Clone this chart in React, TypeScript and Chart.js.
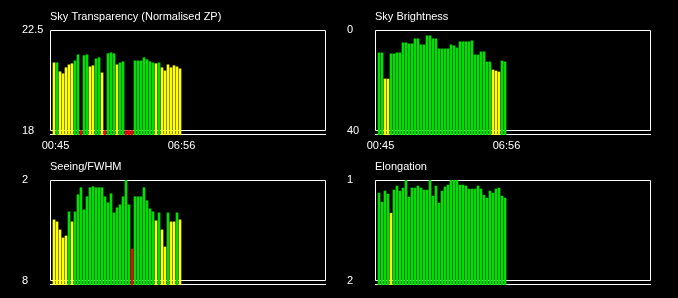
import React, { useEffect, useRef } from "react";
import { Chart, registerables } from "chart.js";
Chart.register(...registerables);

// ---- data ----
const timeLabels = ["00:45", "06:56"];
const timeLabelIndex = [0, 42];

const transparency = [
  21.03, 21.03, 20.63, 20.54, 20.81, 20.94, 20.99, 21.12, 21.39, 18.0,
  21.35, 21.39, 20.85, 20.9, 21.21, 21.26, 20.58, 18.0, 21.44, 21.48,
  21.44, 20.94, 21.03, 21.08, 18.0, 18.0, 18.0, 21.12, 21.12, 21.12,
  21.26, 21.17, 21.08, 21.03, 20.99, 21.03, 20.81, 20.67, 20.94, 20.81,
  20.9, 20.85, 20.76,
];
const transparencyQuality = "ygyyyyyggr ggyyggyrgg gyggrrrggg ggggygyyyy yyy";

const skyBrightness = [
  9.1, 9.1, 19.5, 19.5, 9.5, 9.5, 9.1, 9.1, 5.1, 5.1,
  5.5, 5.5, 3.5, 3.5, 5.9, 5.9, 2.3, 2.3, 3.5, 3.5,
  7.5, 7.5, 7.5, 7.5, 5.9, 6.3, 7.1, 4.7, 4.7, 4.7,
  4.7, 4.3, 9.9, 9.9, 8.7, 8.7, 12.7, 12.7, 15.9, 16.3,
  16.7, 12.3, 12.7,
];
const skyBrightnessQuality = "ggyygggggg gggggggggg gggggggggg ggggggggyy ygg";

const seeing = [
  4.38, 4.5, 4.98, 5.46, 5.34, 3.9, 4.5, 3.9, 2.88, 2.46,
  3.78, 3.0, 2.46, 2.4, 2.46, 2.46, 2.46, 3.0, 3.36, 2.82,
  3.96, 3.66, 3.48, 3.0, 2.0, 3.48, 6.12, 3.0, 3.0, 3.0,
  2.46, 3.24, 3.72, 3.9, 4.44, 3.96, 4.98, 6.0, 3.96, 4.5,
  4.5, 3.96, 4.38,
];
const seeingQuality = "yyyyygyggg gggggggggg ggggggrggg ggggygyygy ygy";

const elongation = [
  1.13, 1.22, 1.11, 1.14, 1.33, 1.1, 1.06, 1.11, 1.08, 1.0,
  1.17, 1.08, 1.08, 1.06, 1.08, 1.1, 1.1, 1.0, 1.16, 1.06,
  1.23, 1.11, 1.07, 1.05, 1.0, 1.0, 1.0, 1.05, 1.05, 1.06,
  1.09, 1.09, 1.09, 1.06, 1.09, 1.15, 1.18, 1.11, 1.13, 1.09,
  1.08, 1.16, 1.18,
];
const elongationQuality = "ggggyggggg gggggggggg gggggggggg gggggggggg ggg";

// ---- styling ----
const QUALITY_COLORS: Record<string, string> = {
  g: "#00e000",
  y: "#ffff00",
  r: "#ff0000",
};
const FONT_FAMILY = "'Liberation Sans', Arial, sans-serif";
Chart.defaults.font.family = FONT_FAMILY;
Chart.defaults.font.size = 11;

type PanelDef = {
  title: string;
  values: number[];
  quality: string;
  topLabel: number;
  bottomLabel: number;
  showTime: boolean;
  left: number;
  top: number;
  height: number;
};

const PANEL_W = 339;
const EXT = 4.5 / 100.5; // extra band below the frame, as fraction of range

const panels: PanelDef[] = [
  { title: "Sky Transparency (Normalised ZP)", values: transparency, quality: transparencyQuality, topLabel: 22.5, bottomLabel: 18, showTime: true, left: 0, top: 0, height: 150 },
  { title: "Sky Brightness", values: skyBrightness, quality: skyBrightnessQuality, topLabel: 0, bottomLabel: 40, showTime: true, left: 325, top: 0, height: 150 },
  { title: "Seeing/FWHM", values: seeing, quality: seeingQuality, topLabel: 2, bottomLabel: 8, showTime: false, left: 0, top: 150, height: 148 },
  { title: "Elongation", values: elongation, quality: elongationQuality, topLabel: 1, bottomLabel: 2, showTime: false, left: 325, top: 150, height: 148 },
];

function makeFramePlugin(bottomLabel: number) {
  return {
    id: "frame",
    beforeDatasetsDraw(chart: any) {
      const { ctx, chartArea: a, scales } = chart;
      const yB = Math.floor(scales.y.getPixelForValue(bottomLabel)) + 0.5;
      ctx.save();
      ctx.strokeStyle = "#ffffff";
      ctx.lineWidth = 1;
      ctx.beginPath();
      ctx.moveTo(a.left + 0.5, a.top + 0.5);
      ctx.lineTo(a.right - 0.5, a.top + 0.5);
      ctx.lineTo(a.right - 0.5, yB);
      ctx.lineTo(a.left + 0.5, yB);
      ctx.closePath();
      ctx.moveTo(a.left, a.bottom - 0.5);
      ctx.lineTo(a.right, a.bottom - 0.5);
      ctx.stroke();
      ctx.restore();
    },
  };
}

function Panel({ def }: { def: PanelDef }) {
  const ref = useRef<HTMLCanvasElement | null>(null);
  useEffect(() => {
    if (!ref.current) return;
    const { topLabel, bottomLabel } = def;
    const span = Math.abs(topLabel - bottomLabel);
    const ext = span * EXT;
    const inverted = topLabel < bottomLabel;
    const yMin = inverted ? topLabel : bottomLabel - ext;
    const yMax = inverted ? bottomLabel + ext : topLabel;
    const base = inverted ? yMax : yMin;
    const q = def.quality.replace(/\s+/g, "").split("");
    const nSlots = 92;
    const xMin = -4 / 3;
    const chart = new Chart(ref.current, {
      type: "bar",
      data: {
        datasets: [
          {
            data: def.values.map((v, i) => ({ x: i, y: v })) as any,
            backgroundColor: q.map((c) => QUALITY_COLORS[c]),
            borderWidth: 0,
            barThickness: 2,
            base,
          } as any,
        ],
      },
      options: {
        animation: false,
        responsive: false,
        events: [],
        layout: { padding: { left: 22, right: 13, top: 0, bottom: 0 } },
        plugins: {
          legend: { display: false },
          tooltip: { enabled: false },
          title: {
            display: true,
            text: def.title,
            align: "start",
            color: "#ffffff",
            fullSize: false,
            font: { family: FONT_FAMILY, size: 11, weight: "normal", lineHeight: 1.2 },
            padding: { top: 10, bottom: 6.8 },
          },
        },
        scales: {
          x: {
            type: "linear",
            min: xMin,
            max: xMin + nSlots,
            offset: false,
            bounds: "data",
            grid: { display: false, drawTicks: false },
            border: { display: false },
            ticks: {
              display: def.showTime,
              color: "#ffffff",
              font: { family: FONT_FAMILY, size: 11 },
              padding: 4,
              autoSkip: false,
              maxRotation: 0,
              callback: (_v: any, idx: number) => timeLabels[idx],
            },
            afterBuildTicks: (s: any) => {
              s.ticks = timeLabelIndex.map((i) => ({ value: i + 0.5 }));
            },
            afterFit: (s: any) => {
              s.height = def.height - 135;
            },
          },
          y: {
            type: "linear",
            min: yMin,
            max: yMax,
            reverse: inverted,
            bounds: "data",
            grid: { display: false, drawTicks: false },
            border: { display: false },
            ticks: {
              color: "#ffffff",
              font: { family: FONT_FAMILY, size: 11 },
              crossAlign: "far",
              padding: 0,
              autoSkip: false,
              callback: (v: any) => String(v),
            },
            afterBuildTicks: (s: any) => {
              s.ticks = [{ value: bottomLabel }, { value: topLabel }];
            },
            afterFit: (s: any) => {
              s.width = 28;
            },
          },
        },
      } as any,
      plugins: [makeFramePlugin(bottomLabel)],
    });
    return () => chart.destroy();
  }, [def]);
  return (
    <canvas
      ref={ref}
      width={PANEL_W}
      height={def.height}
      style={{ position: "absolute", left: def.left, top: def.top, display: "block" }}
    />
  );
}

export default function App() {
  useEffect(() => {
    document.body.style.background = "#000";
  }, []);
  return (
    <div
      style={{
        position: "absolute",
        left: 0,
        top: 0,
        width: 678,
        height: 298,
        background: "#000",
        overflow: "hidden",
      }}
    >
      {panels.map((p, i) => (
        <Panel key={i} def={p} />
      ))}
    </div>
  );
}
